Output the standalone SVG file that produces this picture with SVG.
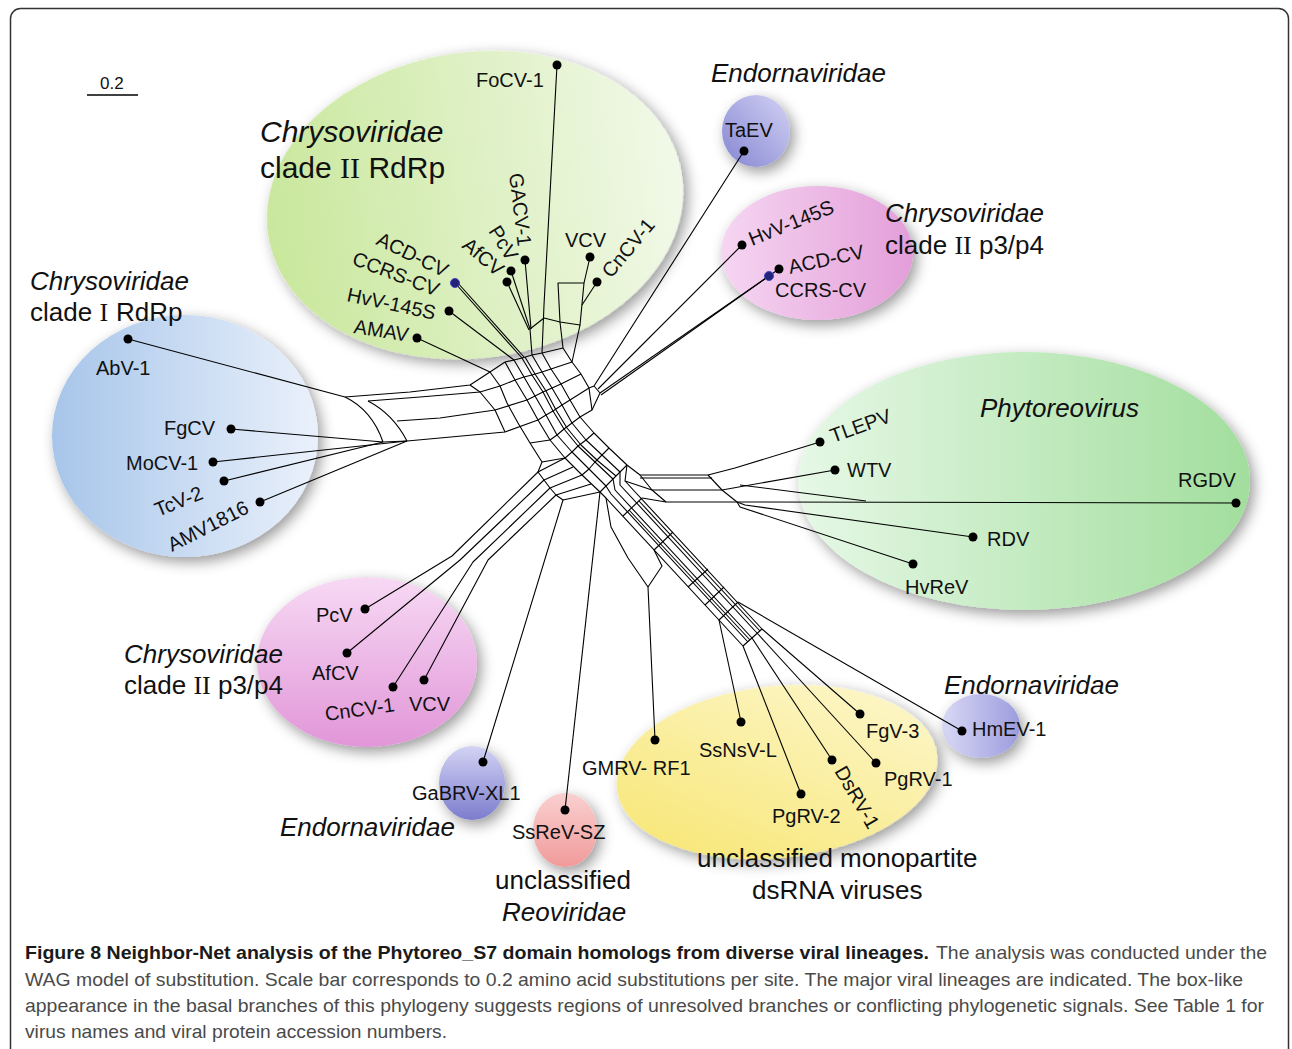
<svg xmlns="http://www.w3.org/2000/svg" width="1292" height="1049" viewBox="0 0 1292 1049">
<defs>
<filter id="sh" x="-30%" y="-30%" width="160%" height="160%">
<feDropShadow dx="4" dy="5" stdDeviation="7" flood-color="#000" flood-opacity="0.4"/>
</filter>
<linearGradient id="gRdRp" x1="0" y1="0" x2="1" y2="0"><stop offset="0" stop-color="#c9e79c"/><stop offset="1" stop-color="#f1f9e8"/></linearGradient>
<linearGradient id="gBlueI" x1="0" y1="0" x2="1" y2="0"><stop offset="0" stop-color="#a7c5ea"/><stop offset="1" stop-color="#eaf1fb"/></linearGradient>
<linearGradient id="gPhyto" x1="0" y1="0" x2="1" y2="0"><stop offset="0" stop-color="#e6f8e6"/><stop offset="1" stop-color="#a2de9d"/></linearGradient>
<linearGradient id="gPinkU" x1="0" y1="0" x2="1" y2="0"><stop offset="0" stop-color="#f6d6f2"/><stop offset="1" stop-color="#e39ed9"/></linearGradient>
<linearGradient id="gPinkL" x1="0" y1="0" x2="0" y2="1"><stop offset="0" stop-color="#f7d9f4"/><stop offset="1" stop-color="#e196d8"/></linearGradient>
<linearGradient id="gEndoV" x1="0" y1="0" x2="0" y2="1"><stop offset="0" stop-color="#d3d3f4"/><stop offset="1" stop-color="#7c7cce"/></linearGradient>
<linearGradient id="gEndoT" x1="0" y1="1" x2="1" y2="0"><stop offset="0" stop-color="#8585d2"/><stop offset="1" stop-color="#d2d2f4"/></linearGradient>
<linearGradient id="gEndoH" x1="0" y1="0" x2="1" y2="0"><stop offset="0" stop-color="#d8d8f5"/><stop offset="1" stop-color="#9c9cde"/></linearGradient>
<linearGradient id="gRed" x1="0" y1="0" x2="0" y2="1"><stop offset="0" stop-color="#fad0d0"/><stop offset="1" stop-color="#f19a9a"/></linearGradient>
<linearGradient id="gYel" x1="0" y1="1" x2="1" y2="0"><stop offset="0" stop-color="#f7e56e"/><stop offset="1" stop-color="#fdf8d2"/></linearGradient>
</defs>
<style>
.lbl{font-family:"Liberation Sans",Arial,sans-serif;font-size:20px;fill:#111}
.ttl{font-family:"Liberation Sans",Arial,sans-serif;font-size:26px;fill:#111}
.it{font-style:italic}
.rn{font-family:"Liberation Serif","Times New Roman",serif}
.net{stroke:#000;stroke-width:1.1;fill:none;stroke-linejoin:round}
.dot{fill:#000}
.bdot{fill:#23237a;stroke:#4545c0;stroke-width:1}
.cap{font-family:"Liberation Sans Narrow","Liberation Sans",Arial,sans-serif;font-size:19px;fill:#4a4a4a}
.capb{font-family:"Liberation Sans Narrow","Liberation Sans",Arial,sans-serif;font-size:19px;font-weight:bold;fill:#1a1a1a}
</style>
<rect x="0" y="0" width="1292" height="1049" fill="#fff"/>
<rect x="10.5" y="8.5" width="1278" height="1070" rx="10" fill="none" stroke="#333" stroke-width="1.5"/>

<g id="clusters">
<g id="c-rdrp2"><ellipse cx="475" cy="205" rx="209" ry="153" transform="rotate(-8 475 205)" fill="url(#gRdRp)" filter="url(#sh)"/></g>
<g id="c-taev"><ellipse cx="756" cy="131" rx="34" ry="36" fill="url(#gEndoT)" filter="url(#sh)"/></g>
<g id="c-p3p4u"><ellipse cx="817" cy="253" rx="96" ry="67" fill="url(#gPinkU)" filter="url(#sh)"/></g>
<g id="c-rdrp1"><ellipse cx="185" cy="436" rx="133" ry="121" fill="url(#gBlueI)" filter="url(#sh)"/></g>
<g id="c-phyto"><ellipse cx="1024" cy="481" rx="226" ry="129" fill="url(#gPhyto)" filter="url(#sh)"/></g>
<g id="c-p3p4l"><ellipse cx="367" cy="662" rx="110" ry="85" fill="url(#gPinkL)" filter="url(#sh)"/></g>
<g id="c-gabrv"><ellipse cx="472" cy="783" rx="33" ry="37" fill="url(#gEndoV)" filter="url(#sh)"/></g>
<g id="c-ssrev"><ellipse cx="565" cy="830" rx="32" ry="37" fill="url(#gRed)" filter="url(#sh)"/></g>
<g id="c-hmev"><ellipse cx="981" cy="726" rx="39" ry="32" fill="url(#gEndoH)" filter="url(#sh)"/></g>
<g id="c-yellow"><ellipse cx="777" cy="772" rx="161" ry="86" transform="rotate(-6 777 772)" fill="url(#gYel)" filter="url(#sh)"/></g>
</g>

<g id="connectors" class="net">
<!-- main curved band -->
<polyline points="505,362 515,380 527,400 538,420 550,440 565,458 582,475 600,492"/>
<polyline points="514,360 524,377 535,396 546,415 557,435 572,452 589,469 606,486"/>
<polyline points="522,358 532,375 543,392 553,411 564,429 578,446 595,462 613,479"/>
<polyline points="525,357 535,374 546,391 556,410 567,428 581,445 598,461 616,476"/>
<polyline points="532,355 542,372 552,388 562,405 572,423 586,440 602,455 620,472"/>
<polyline points="542,353 551,369 561,384 570,400 580,417 594,433 609,448 627,465"/>
<polyline points="563,348 572,362 581,374 589,388"/>
<polyline points="505,362 514,360 522,358 532,355 542,353 563,348"/>
<polyline points="515,380 524,377 532,375 542,372 551,369 572,362"/>
<polyline points="527,400 535,396 543,392 552,388 561,384 581,374"/>
<polyline points="538,420 546,415 553,411 562,405 570,400 589,388"/>
<polyline points="550,440 557,435 564,429 572,423 580,417"/>
<polyline points="565,458 572,452 578,446 586,440 594,433"/>
<polyline points="582,475 589,469 595,462 602,455 609,448"/>
<polyline points="600,492 606,486 613,479 620,472 627,465"/>
<polyline points="500,386 507,403 518,423 530,443 542,462 538,472"/>
<polyline points="530,443 550,440"/>
<polyline points="542,462 565,458"/>
<!-- upper clade II RdRp attachments -->
<polyline points="417,338 490,372"/>
<polyline points="449,311 514,360"/>
<polyline points="455,283 522,358"/>
<polyline points="457,282 524,357"/>
<polyline points="525,260 531,329"/>
<polyline points="511,271 530,329"/>
<polyline points="507,282 529,330"/>
<polyline points="530,329 532,355"/>
<polyline points="557,65 544,305 542,353"/>
<polyline points="530,329 544,318 560,322"/>
<polygon points="558,283 584,283 580,325 560,322"/>
<polyline points="590,257 584,283"/>
<polyline points="597,282 582,305"/>
<polyline points="560,322 563,348"/>
<polyline points="580,325 572,362"/>
<!-- upper-right branch -->
<polyline points="744,151 594,386 589,388"/>
<polyline points="742,245 598,389"/>
<polyline points="779,269 600,393"/>
<polyline points="769,276 601,395"/>
<polyline points="594,386 600,393 592,410 580,417"/>
<polyline points="589,388 592,410"/>
<!-- clade I band -->
<polyline points="128,339 345,397 410,392 470,385 490,372 505,362"/>
<polyline points="368,401 420,397 480,392 500,386 515,380"/>
<polyline points="397,421 440,418 495,410 527,400"/>
<polyline points="407,441 440,438 505,432 538,420"/>
<path d="M345,397 Q372,410 383,442"/>
<path d="M368,401 Q393,414 407,441"/>
<polyline points="470,385 480,392 495,410 505,432"/>
<polyline points="490,372 500,386"/>
<polyline points="383,442 407,441"/>
<polyline points="231,429 383,442"/>
<polyline points="213,462 407,441"/>
<polyline points="224,481 383,442"/>
<polyline points="260,502 407,441"/>
<!-- Phytoreovirus band -->
<polyline points="627,465 640,475 708,475"/>
<polyline points="640,478 712,478"/>
<polyline points="625,481 652,490 722,490"/>
<polyline points="642,498 666,502 737,502"/>
<polyline points="640,475 652,490 666,502"/>
<polyline points="708,475 722,490 737,502"/>
<polyline points="820,442 735,468 708,475"/>
<polyline points="835,470 722,490"/>
<polyline points="1236,503 737,502"/>
<polyline points="740,485 866,501"/>
<polyline points="973,537 745,505 737,502"/>
<polyline points="913,564 740,507 737,502"/>
<!-- lower-right band -->
<polyline points="600,492 606,498 743,646"/>
<polyline points="606,486 611,494 748,642"/>
<polyline points="629,510 750,640"/>
<polyline points="613,479 615,490 752,638"/>
<polyline points="620,472 620,485 757,633"/>
<polyline points="639,501 760,631"/>
<polyline points="627,465 625,481 762,629"/>
<polyline points="623,516 642,498"/>
<polyline points="654,550 673,532"/>
<polyline points="688,587 708,569"/>
<polyline points="705,605 724,587"/>
<polyline points="719,620 738,602"/>
<polyline points="743,646 762,629"/>
<polyline points="741,722 719,620"/>
<polyline points="801,794 743,646"/>
<polyline points="832,760 752,638"/>
<polyline points="876,763 757,633"/>
<polyline points="860,714 762,629"/>
<polyline points="962,731 738,602"/>
<polyline points="655,740 648,587 628,558 611,527 606,498"/>
<polyline points="648,587 662,566 654,550"/>
<!-- lower-left branch -->
<polyline points="365,609 452,556 538,472 565,458"/>
<polyline points="347,653 460,560 544,480 573,467"/>
<polyline points="393,687 473,562 550,488 582,475"/>
<polyline points="424,680 488,560 556,495 591,484"/>
<polyline points="538,472 544,480 550,488 556,495"/>
<polyline points="483,762 563,500 556,495"/>
<polyline points="563,500 600,492"/>
<polyline points="565,810 600,492"/>
</g>

<g id="scale"><line x1="87" y1="95" x2="138" y2="95" stroke="#000" stroke-width="1.5"/><text class="lbl" x="100" y="89" style="font-size:17px">0.2</text></g>

<g id="leaves">
<g id="n-focv1"><circle class="dot" cx="557" cy="65" r="4.5"/><text class="lbl" x="476" y="87">FoCV-1</text></g>
<g id="n-taev"><circle class="dot" cx="744" cy="151" r="4.5"/><text class="lbl" x="725" y="137">TaEV</text></g>
<g id="n-gacv1"><circle class="dot" cx="525" cy="260" r="4.5"/><text class="lbl" transform="translate(509 174) rotate(83)">GACV-1</text></g>
<g id="n-pcv-a"><circle class="dot" cx="511" cy="271" r="4.5"/><text class="lbl" transform="translate(488 231) rotate(58)">PcV</text></g>
<g id="n-afcv-a"><circle class="dot" cx="507" cy="282" r="4.5"/><text class="lbl" transform="translate(461 247) rotate(40)">AfCV</text></g>
<g id="n-acdcv-a"><circle class="bdot" cx="455" cy="283" r="4.5"/><text class="lbl" transform="translate(375 244) rotate(26)">ACD-CV</text></g>
<g id="n-ccrscv-a"><text class="lbl" transform="translate(351 264) rotate(21)">CCRS-CV</text></g>
<g id="n-hvv145s-a"><circle class="dot" cx="449" cy="311" r="4.5"/><text class="lbl" transform="translate(346 301) rotate(12)">HvV-145S</text></g>
<g id="n-amav"><circle class="dot" cx="417" cy="338" r="4.5"/><text class="lbl" transform="translate(353 333) rotate(9)">AMAV</text></g>
<g id="n-vcv-a"><circle class="dot" cx="590" cy="257" r="4.5"/><text class="lbl" x="565" y="247">VCV</text></g>
<g id="n-cncv1-a"><circle class="dot" cx="597" cy="282" r="4.5"/><text class="lbl" transform="translate(611 279) rotate(-50)">CnCV-1</text></g>
<g id="n-hvv145s-b"><circle class="dot" cx="742" cy="245" r="4.5"/><text class="lbl" transform="translate(752 246) rotate(-22)">HvV-145S</text></g>
<g id="n-acdcv-b"><circle class="dot" cx="779" cy="269" r="4.5"/><text class="lbl" transform="translate(790 274) rotate(-12)">ACD-CV</text></g>
<g id="n-ccrscv-b"><circle class="bdot" cx="769" cy="276" r="4.5"/><text class="lbl" x="775" y="297">CCRS-CV</text></g>
<g id="n-abv1"><circle class="dot" cx="128" cy="339" r="4.5"/><text class="lbl" x="96" y="375">AbV-1</text></g>
<g id="n-fgcv"><circle class="dot" cx="231" cy="429" r="4.5"/><text class="lbl" x="164" y="435">FgCV</text></g>
<g id="n-mocv1"><circle class="dot" cx="213" cy="462" r="4.5"/><text class="lbl" x="126" y="470">MoCV-1</text></g>
<g id="n-tcv2"><circle class="dot" cx="224" cy="481" r="4.5"/><text class="lbl" transform="translate(158 517) rotate(-22)">TcV-2</text></g>
<g id="n-amv1816"><circle class="dot" cx="260" cy="502" r="4.5"/><text class="lbl" transform="translate(172 552) rotate(-27)">AMV1816</text></g>
<g id="n-tlepv"><circle class="dot" cx="820" cy="442" r="4.5"/><text class="lbl" transform="translate(833 443) rotate(-20)">TLEPV</text></g>
<g id="n-wtv"><circle class="dot" cx="835" cy="470" r="4.5"/><text class="lbl" x="847" y="477">WTV</text></g>
<g id="n-rgdv"><circle class="dot" cx="1236" cy="503" r="4.5"/><text class="lbl" x="1178" y="487">RGDV</text></g>
<g id="n-rdv"><circle class="dot" cx="973" cy="537" r="4.5"/><text class="lbl" x="987" y="546">RDV</text></g>
<g id="n-hvrev"><circle class="dot" cx="913" cy="564" r="4.5"/><text class="lbl" x="905" y="594">HvReV</text></g>
<g id="n-pcv-b"><circle class="dot" cx="365" cy="609" r="4.5"/><text class="lbl" x="316" y="622">PcV</text></g>
<g id="n-afcv-b"><circle class="dot" cx="347" cy="653" r="4.5"/><text class="lbl" x="312" y="680">AfCV</text></g>
<g id="n-cncv1-b"><circle class="dot" cx="393" cy="687" r="4.5"/><text class="lbl" transform="translate(326 721) rotate(-8)">CnCV-1</text></g>
<g id="n-vcv-b"><circle class="dot" cx="424" cy="680" r="4.5"/><text class="lbl" x="409" y="711">VCV</text></g>
<g id="n-gabrv"><circle class="dot" cx="483" cy="762" r="4.5"/><text class="lbl" x="412" y="800">GaBRV-XL1</text></g>
<g id="n-ssrev"><circle class="dot" cx="565" cy="810" r="4.5"/><text class="lbl" x="512" y="839">SsReV-SZ</text></g>
<g id="n-gmrv"><circle class="dot" cx="655" cy="740" r="4.5"/><text class="lbl" x="582" y="775">GMRV- RF1</text></g>
<g id="n-ssnsv"><circle class="dot" cx="741" cy="722" r="4.5"/><text class="lbl" x="699" y="757">SsNsV-L</text></g>
<g id="n-pgrv2"><circle class="dot" cx="801" cy="794" r="4.5"/><text class="lbl" x="772" y="823">PgRV-2</text></g>
<g id="n-dsrv1"><circle class="dot" cx="832" cy="760" r="4.5"/><text class="lbl" transform="translate(834 771) rotate(60)">DsRV-1</text></g>
<g id="n-pgrv1"><circle class="dot" cx="876" cy="763" r="4.5"/><text class="lbl" x="884" y="786">PgRV-1</text></g>
<g id="n-fgv3"><circle class="dot" cx="860" cy="714" r="4.5"/><text class="lbl" x="866" y="738">FgV-3</text></g>
<g id="n-hmev1"><circle class="dot" cx="962" cy="731" r="4.5"/><text class="lbl" x="972" y="736">HmEV-1</text></g>
</g>

<g id="titles">
<text class="ttl it" x="260" y="142" style="font-size:30px">Chrysoviridae</text>
<text class="ttl" x="260" y="178" style="font-size:30px">clade <tspan class="rn">II</tspan> RdRp</text>
<text class="ttl it" x="711" y="82">Endornaviridae</text>
<text class="ttl it" x="885" y="222">Chrysoviridae</text>
<text class="ttl" x="885" y="254">clade <tspan class="rn">II</tspan> p3/p4</text>
<text class="ttl it" x="30" y="290">Chrysoviridae</text>
<text class="ttl" x="30" y="321">clade <tspan class="rn">I</tspan><tspan dx="8">RdRp</tspan></text>
<text class="ttl it" x="980" y="417">Phytoreovirus</text>
<text class="ttl it" x="124" y="663">Chrysoviridae</text>
<text class="ttl" x="124" y="694">clade <tspan class="rn">II</tspan> p3/p4</text>
<text class="ttl it" x="944" y="694">Endornaviridae</text>
<text class="ttl it" x="280" y="836">Endornaviridae</text>
<text class="ttl" x="495" y="889">unclassified</text>
<text class="ttl it" x="502" y="921">Reoviridae</text>
<text class="ttl" x="697" y="867">unclassified monopartite</text>
<text class="ttl" x="752" y="899">dsRNA viruses</text>
</g>

<g id="caption">
<text class="capb" x="25" y="959" textLength="904" lengthAdjust="spacingAndGlyphs">Figure 8 Neighbor-Net analysis of the Phytoreo_S7 domain homologs from diverse viral lineages.</text>
<text class="cap" x="936" y="959" textLength="331" lengthAdjust="spacingAndGlyphs">The analysis was conducted under the</text>
<text class="cap" x="25" y="986" textLength="1218" lengthAdjust="spacingAndGlyphs">WAG model of substitution. Scale bar corresponds to 0.2 amino acid substitutions per site. The major viral lineages are indicated. The box-like</text>
<text class="cap" x="25" y="1012" textLength="1239" lengthAdjust="spacingAndGlyphs">appearance in the basal branches of this phylogeny suggests regions of unresolved branches or conflicting phylogenetic signals. See Table 1 for</text>
<text class="cap" x="25" y="1038" textLength="422" lengthAdjust="spacingAndGlyphs">virus names and viral protein accession numbers.</text>
</g>
</svg>
